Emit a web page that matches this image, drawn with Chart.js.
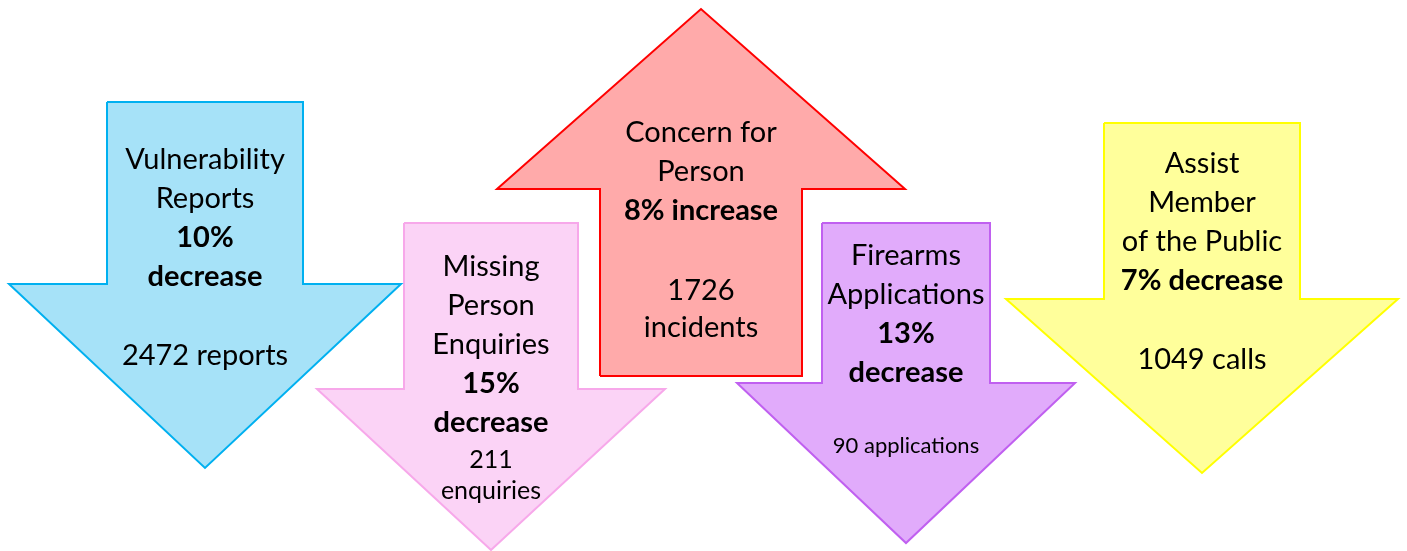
<!DOCTYPE html>
<html>
<head>
<meta charset="utf-8">
<script src="https://cdn.jsdelivr.net/npm/chart.js@4.4.1/dist/chart.umd.min.js"></script>
<style>
  html, body { margin: 0; padding: 0; background: #fff; }
  #wrap { width: 1407px; height: 551px; }
</style>
</head>
<body>
<div id="wrap"><canvas id="grafico-setas" width="1407" height="551"></canvas></div>
<script>
const categorias = [['Vulnerability', 'Reports'], ['Missing', 'Person', 'Enquiries'], ['Concern for', 'Person'], ['Firearms', 'Applications'], ['Assist', 'Member', 'of the Public']];
const variacaoPct = [10, 15, 8, 13, 7];
const direcao = ['decrease', 'decrease', 'increase', 'decrease', 'decrease'];
const totais = [2472, 211, 1726, 90, 1049];
const unidades = ['reports', 'enquiries', 'incidents', 'applications', 'calls'];

// Geometria das setas (unidades do eixo = pixels do quadro)
const centroX = [205, 491, 701, 906, 1202];
const meiaHaste = [98, 87, 101, 84, 98];
const meiaCabeca = [196, 174, 204, 169, 196];
const inicioHaste = [102, 223, 376, 223, 123];
const baseCabeca = [284, 389, 189, 383, 299];
const ponta = [468, 550, 9, 543, 473];

// Estilo
const corFundo = ['#a6e2f8', '#fbd3f6', '#ffaaaa', '#e1abfb', '#ffff9b'];
const corBorda = ['#00b0f0', '#f7a8ea', '#ff0000', '#c060f0', '#ffff00'];

// Layout do texto
const linhaTopo = [160, 267, 133, 256, 164];
const quebraVariacao = [true, true, false, true, false];
const totalY = [356, 460, 291, 446, 360];
const totalPasso = [0, 31, 37, 0, 0];
const totalFonte = [29, 25, 29, 22, 29];
const passoLinha = 39;
const fonteTam = 29;
const fonteBase = 'Lato, "Open Sans", sans-serif';

function montarSeta(i) {
    const cx = centroX[i], hs = meiaHaste[i], hc = meiaCabeca[i];
    return [
        { x: cx - hs, y: inicioHaste[i] },
        { x: cx + hs, y: inicioHaste[i] },
        { x: cx + hs, y: baseCabeca[i] },
        { x: cx + hc, y: baseCabeca[i] },
        { x: cx, y: ponta[i] },
        { x: cx - hc, y: baseCabeca[i] },
        { x: cx - hs, y: baseCabeca[i] },
        { x: cx - hs, y: inicioHaste[i] }
    ];
}

const preenchimentoSeta = {
    id: 'preenchimentoSeta',
    beforeDatasetDraw(chart, args) {
        const pts = args.meta.data;
        if (!pts.length) return;
        const ctx = chart.ctx;
        ctx.save();
        ctx.beginPath();
        pts.forEach((p, k) => k === 0 ? ctx.moveTo(p.x, p.y) : ctx.lineTo(p.x, p.y));
        ctx.closePath();
        ctx.fillStyle = corFundo[args.index];
        ctx.fill();
        ctx.restore();
    }
};

const textoSeta = {
    id: 'textoSeta',
    afterDatasetsDraw(chart) {
        const ctx = chart.ctx;
        const sx = chart.scales.x, sy = chart.scales.y;
        ctx.save();
        ctx.fillStyle = '#000';
        ctx.textAlign = 'center';
        ctx.textBaseline = 'middle';
        categorias.forEach((nome, i) => {
            const px = sx.getPixelForValue(centroX[i]);
            let y = linhaTopo[i];
            ctx.font = `${fonteTam}px ${fonteBase}`;
            nome.forEach(l => { ctx.fillText(l, px, sy.getPixelForValue(y)); y += passoLinha; });
            ctx.font = `bold ${fonteTam}px ${fonteBase}`;
            const pct = `${variacaoPct[i]}%`;
            if (quebraVariacao[i]) {
                ctx.fillText(pct, px, sy.getPixelForValue(y)); y += passoLinha;
                ctx.fillText(direcao[i], px, sy.getPixelForValue(y));
            } else {
                ctx.fillText(`${pct} ${direcao[i]}`, px, sy.getPixelForValue(y));
            }
            ctx.font = `${totalFonte[i]}px ${fonteBase}`;
            if (totalPasso[i] > 0) {
                ctx.fillText(String(totais[i]), px, sy.getPixelForValue(totalY[i]));
                ctx.fillText(unidades[i], px, sy.getPixelForValue(totalY[i] + totalPasso[i]));
            } else {
                ctx.fillText(`${totais[i]} ${unidades[i]}`, px, sy.getPixelForValue(totalY[i]));
            }
        });
        ctx.restore();
    }
};

const ctx = document.getElementById('grafico-setas').getContext('2d');
new Chart(ctx, {
    type: 'scatter',
    data: {
        datasets: categorias.map((c, i) => ({
            label: c.join(' '),
            data: montarSeta(i),
            showLine: true,
            tension: 0,
            borderColor: corBorda[i],
            borderWidth: 2,
            borderJoinStyle: 'miter',
            backgroundColor: corFundo[i],
            pointRadius: 0,
            fill: false
        }))
    },
    options: {
        responsive: false,
        animation: false,
        layout: { padding: 0 },
        plugins: { legend: { display: false }, tooltip: { enabled: false } },
        scales: {
            x: { type: 'linear', min: 0, max: 1407, display: false },
            y: { type: 'linear', min: 0, max: 551, reverse: true, display: false }
        }
    },
    plugins: [preenchimentoSeta, textoSeta]
});
</script>
</body>
</html>
